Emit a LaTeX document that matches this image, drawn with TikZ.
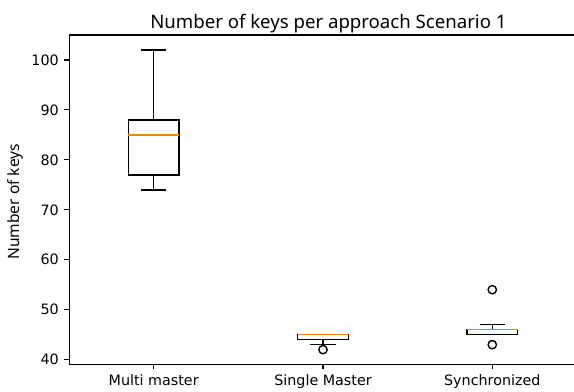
\documentclass[tikz,border=0pt]{standalone}
\usepackage{fontspec}
\setmainfont{DejaVu Sans}
\newfontfamily\labelfont{Noto Sans}
\usepackage{tikz}
\usetikzlibrary{positioning}
\usetikzlibrary{calc}
\definecolor{medorange}{HTML}{FF7F0E}

\begin{document}
\begin{tikzpicture}[x=121.9pt, y=3.596pt,
  every node/.style={font=\fontsize{10.3}{12}\selectfont, inner sep=0pt},
  spine/.style={line width=0.8pt, black},
  whisk/.style={line width=1pt, black},
  med/.style={line width=1pt, medorange},
  flier/.style={line width=1pt, black}]
\useasboundingbox (0.0921,33.53) rectangle (3.4826,112.01);

% frame (right side lies off the page)
\coordinate (ll) at (0.5,39);
\coordinate (ul) at (0.5,105);
\coordinate (ur) at (3.4826,105);
\coordinate (lr) at (3.4826,39);
\draw[spine] (ur) -- (ul) -- (ll) -- (lr);

% ticks
\foreach \v in {40,50,...,100} {
  \draw[spine] (0.5,\v) -- ++(-3.5pt,0) node[anchor=east, xshift=-3.5pt] (y\v) {\v};
}
\foreach \p/\t in {1/Multi master, 2/Single Master, 3/Synchronized} {
  \draw[spine] (\p,39) -- ++(0,-3.5pt);
  \node[anchor=base] (x\p) at (\p,34.73) {\t};
}

% Multi master
\draw[whisk] (1,77) -- (1,74);
\draw[whisk] (1,88) -- (1,102);
\draw[whisk] (0.925,74) -- (1.075,74);
\draw[whisk] (0.925,102) -- (1.075,102);
\draw[whisk] (0.85,77) rectangle (1.15,88);
\draw[med] (0.85,85) -- (1.15,85);

% Single Master
\draw[whisk] (2,44) -- (2,43);
\draw[whisk] (1.925,43) -- (2.075,43);
\draw[whisk] (1.925,45) -- (2.075,45);
\draw[whisk] (1.85,44) rectangle (2.15,45);
\draw[med] (1.85,45) -- (2.15,45);
\draw[flier] (2,42) circle[radius=3pt];

% Synchronized
\draw[whisk] (3,46) -- (3,47);
\draw[whisk] (2.925,47) -- (3.075,47);
\draw[whisk] (2.925,45) -- (3.075,45);
\draw[whisk] (2.85,45) rectangle (3.15,46);
\draw[med] (2.85,46) -- (3.15,46);
\draw[flier] (3,54) circle[radius=3pt];
\draw[flier] (3,43) circle[radius=3pt];

\node[anchor=base, font=\labelfont\fontsize{13.4}{16}\selectfont] (title) at (2.032,106.35) {Number of keys per approach Scenario 1};
\node[rotate=90, font=\labelfont\fontsize{11.2}{13}\selectfont] (ylab) at (0.1855,71.6) {Number of keys};
\end{tikzpicture}
\end{document}
